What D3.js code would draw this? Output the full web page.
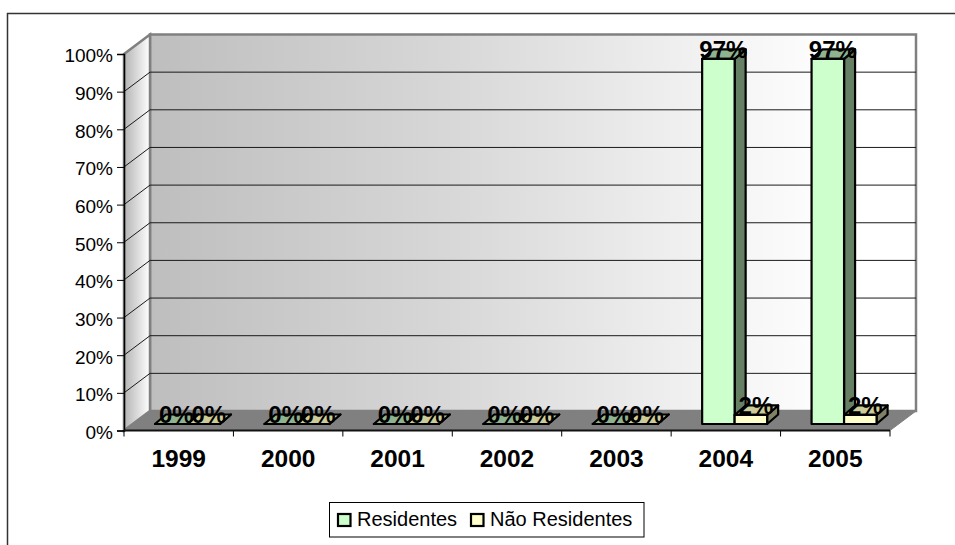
<!DOCTYPE html>
<html lang="en">
<head>
<meta charset="UTF-8">
<title>Residentes</title>
<script src="https://d3js.org/d3.v7.min.js"></script>
<style>
  html, body { margin: 0; padding: 0; background: #fff; }
  svg { display: block; }
  text { font-family: "Liberation Sans", Arial, sans-serif; fill: #000; }
</style>
</head>
<body>
<div id="chart"></div>
<script>
const years = ['1999', '2000', '2001', '2002', '2003', '2004', '2005'];
const residentes = [0, 0, 0, 0, 0, 97, 97];
const naoResidentes = [0, 0, 0, 0, 0, 2.4, 2.4];
const seriesNames = ['Residentes', 'Não Residentes'];
const yTicks = [0, 10, 20, 30, 40, 50, 60, 70, 80, 90, 100];

const width = 955, height = 545;
const svg = d3.select('#chart').append('svg').attr('width', width).attr('height', height);

// plot box: front floor edge and the depth of the 3d walls
const x0 = 124, x1 = 890, yTop = 54, yBase = 430.5;
const depthX = 26, depthY = 19.5;

const x = d3.scaleBand().domain(years).range([x0, x1]);
const y = d3.scaleLinear().domain([0, 100]).range([yBase, yTop]);
const inner = d3.scaleBand().domain(seriesNames).range([31, 96]);

const defs = svg.append('defs');
const backGrad = defs.append('linearGradient').attr('id', 'backGrad');
backGrad.append('stop').attr('offset', '0%').attr('stop-color', '#bebebe');
backGrad.append('stop').attr('offset', '40%').attr('stop-color', '#d8d8d8');
backGrad.append('stop').attr('offset', '70%').attr('stop-color', '#f0f0f0');
backGrad.append('stop').attr('offset', '90%').attr('stop-color', '#ffffff');
const sideGrad = defs.append('linearGradient').attr('id', 'sideGrad');
sideGrad.append('stop').attr('offset', '0%').attr('stop-color', '#b4b4b4');
sideGrad.append('stop').attr('offset', '100%').attr('stop-color', '#ffffff');

// outer frame, only left and top are inside the picture
svg.append('path')
  .attr('d', `M7.5,${height}V13.5H${width}`)
  .attr('fill', 'none').attr('stroke', '#333').attr('stroke-width', 1.5);

const poly = pts => 'M' + pts.map(p => p.join(',')).join('L') + 'Z';
const wall = '#808080';

// back wall
svg.append('path')
  .attr('d', poly([[x0 + depthX, yTop - depthY], [x1 + depthX, yTop - depthY], [x1 + depthX, yBase - depthY], [x0 + depthX, yBase - depthY]]))
  .attr('fill', 'url(#backGrad)').attr('stroke', wall).attr('stroke-width', 2.5);
// left wall
svg.append('path')
  .attr('d', poly([[x0, yTop], [x0 + depthX, yTop - depthY], [x0 + depthX, yBase - depthY], [x0, yBase]]))
  .attr('fill', 'url(#sideGrad)').attr('stroke', wall).attr('stroke-width', 2.5);
// floor
svg.append('path')
  .attr('d', poly([[x0, yBase], [x0 + depthX, yBase - depthY], [x1 + depthX, yBase - depthY], [x1, yBase]]))
  .attr('fill', wall).attr('stroke', wall).attr('stroke-width', 1);

// gridlines run along the left wall and the back wall
svg.append('g').selectAll('path')
  .data(yTicks.filter(d => d > 0 && d < 100))
  .join('path')
  .attr('d', d => `M${x0},${y(d)}L${x0 + depthX},${y(d) - depthY}H${x1 + depthX}`)
  .attr('fill', 'none').attr('stroke', '#1a1a1a').attr('stroke-width', 1);

// axes
const yAxis = svg.append('g').attr('transform', `translate(${x0},0)`)
  .call(d3.axisLeft(y).tickValues(yTicks).tickFormat(d => d + '%').tickSize(7).tickPadding(4));
yAxis.select('.domain').attr('stroke', '#000').attr('stroke-width', 1.5);
yAxis.selectAll('.tick line').attr('stroke', '#000');
yAxis.selectAll('text').attr('font-size', 19).attr('dy', '0.42em')
  .style('font-family', '"Liberation Sans", Arial, sans-serif');

const xEdges = d3.range(years.length + 1).map(i => x0 + i * x.step());
svg.append('g').selectAll('line').data(xEdges).join('line')
  .attr('x1', d => d).attr('x2', d => d)
  .attr('y1', yBase).attr('y2', yBase + 6)
  .attr('stroke', '#000').attr('stroke-width', 1);
svg.append('line').attr('x1', x0).attr('x2', x1).attr('y1', yBase).attr('y2', yBase)
  .attr('stroke', '#111').attr('stroke-width', 2);

svg.append('g').selectAll('text').data(years).join('text')
  .attr('x', d => x(d) + x.bandwidth() / 2)
  .attr('y', 467)
  .attr('text-anchor', 'middle')
  .attr('font-size', 24.5).attr('font-weight', 'bold')
  .text(d => d);

// bars: sit a little behind the front floor edge
const barBase = 424, dx = 11, dy = 9.5;
const barY = v => barBase - (yBase - y(v));
const colors = [
  { front: '#ccffcc', top: '#8fb38f', side: '#668066' },
  { front: '#ffffcc', top: '#cccc99', side: '#808066' }
];
const series = [residentes, naoResidentes];
const bars = [];
series.forEach((vals, s) => vals.forEach((v, i) => bars.push({ s, v, year: years[i] })));

const barG = svg.append('g').selectAll('g').data(bars).join('g')
  .attr('stroke', '#000').attr('stroke-width', 2.2).attr('stroke-linejoin', 'round');
barG.append('path')
  .attr('d', d => {
    const l = x(d.year) + inner(seriesNames[d.s]), r = l + inner.bandwidth(), t = barY(d.v);
    return poly([[r, t], [r + dx, t - dy], [r + dx, barBase - dy], [r, barBase]]);
  })
  .attr('fill', d => colors[d.s].side);
barG.append('path')
  .attr('d', d => {
    const l = x(d.year) + inner(seriesNames[d.s]), r = l + inner.bandwidth(), t = barY(d.v);
    return poly([[l, t], [l + dx, t - dy], [r + dx, t - dy], [r, t]]);
  })
  .attr('fill', d => colors[d.s].top);
barG.append('path')
  .attr('d', d => {
    const l = x(d.year) + inner(seriesNames[d.s]), r = l + inner.bandwidth(), t = barY(d.v);
    return poly([[l, t], [r, t], [r, barBase], [l, barBase]]);
  })
  .attr('fill', d => colors[d.s].front);

// value labels drawn over the bars
svg.append('g').selectAll('text').data(bars).join('text')
  .attr('x', d => x(d.year) + inner(seriesNames[d.s]) + inner.bandwidth() / 2 + 5)
  .attr('y', d => barY(d.v) - 1)
  .attr('text-anchor', 'middle')
  .attr('font-size', 24).attr('font-weight', 'bold')
  .text(d => d3.format('.0f')(d.v) + '%');

// legend
const legend = svg.append('g');
legend.append('rect').attr('x', 329.5).attr('y', 502.5).attr('width', 314.5).attr('height', 34.5)
  .attr('fill', '#fff').attr('stroke', '#000').attr('stroke-width', 1);
const legendX = [338, 471];
const legendTextX = [357, 490];
seriesNames.forEach((name, i) => {
  legend.append('rect').attr('x', legendX[i]).attr('y', 514).attr('width', 12.5).attr('height', 12)
    .attr('fill', colors[i].front).attr('stroke', '#000').attr('stroke-width', 2.2);
  legend.append('text').attr('x', legendTextX[i]).attr('y', 526)
    .attr('font-size', 20).text(name);
});
</script>
</body>
</html>
